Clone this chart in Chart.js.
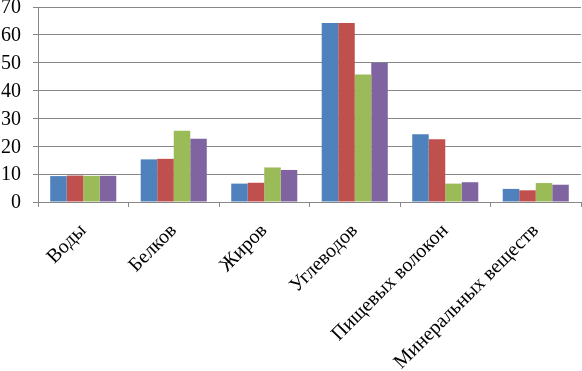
<!DOCTYPE html>
<html>
<head>
<meta charset="utf-8">
<script src="https://cdn.jsdelivr.net/npm/chart.js@4/dist/chart.umd.min.js"></script>
<style>
    html, body { margin: 0; padding: 0; background: #fff; }
    #wrap { width: 582px; height: 371px; position: relative; }
</style>
</head>
<body>
<div id="wrap"><canvas id="myChart"></canvas></div>
<script>
// категории и значения серий
var categories = ['Воды', 'Белков', 'Жиров', 'Углеводов', 'Пищевых волокон', 'Минеральных веществ'];
var series1 = [9.3, 15.3, 6.6, 64.3, 24.3, 4.7];
var series2 = [9.5, 15.5, 6.9, 64.3, 22.5, 4.2];
var series3 = [9.4, 25.6, 12.4, 45.8, 6.6, 6.8];
var series4 = [9.4, 22.7, 11.5, 50.0, 7.1, 6.2];
var yTicks = [0, 10, 20, 30, 40, 50, 60, 70];

var colors = ['#4F81BD', '#C0504D', '#9BBB59', '#8064A2'];
var allSeries = [series1, series2, series3, series4];

var datasets = [];
for (let i = 0; i < allSeries.length; i++) {
    datasets.push({
        label: 'Ряд ' + (i + 1),
        data: allSeries[i],
        backgroundColor: colors[i],
        borderWidth: 0,
        barPercentage: 1.0,
        categoryPercentage: 0.73
    });
}

var font = { family: '"Liberation Serif", "Times New Roman", serif', size: 20, lineHeight: 0.8 };

var ctx = document.getElementById('myChart').getContext('2d');
new Chart(ctx, {
    type: 'bar',
    data: {
        labels: categories,
        datasets: datasets
    },
    options: {
        responsive: true,
        maintainAspectRatio: false,
        animation: false,
        layout: { padding: { left: 0, right: 1, top: 7, bottom: 0 } },
        plugins: {
            legend: { display: false },
            tooltip: { enabled: false }
        },
        scales: {
            x: {
                afterFit: function (scale) {
                    // высота зоны подписей как в оригинале
                    scale.height = 169;
                    scale.paddingLeft = 0;
                    scale.paddingRight = 0;
                },
                grid: {
                    offset: true,
                    drawOnChartArea: false,
                    color: '#878787',
                    tickLength: 5
                },
                border: { color: '#878787' },
                ticks: {
                    color: '#000',
                    font: font,
                    minRotation: 45,
                    maxRotation: 45,
                    padding: 15
                }
            },
            y: {
                min: 0,
                max: 70,
                afterBuildTicks: function (axis) {
                    axis.ticks = yTicks.map(function (v) { return { value: v }; });
                },
                afterFit: function (scale) {
                    scale.width = 38;
                    scale.paddingTop = 0;
                },
                grid: {
                    color: '#878787',
                    tickLength: 5
                },
                border: { color: '#878787' },
                ticks: {
                    color: '#000',
                    font: font,
                    padding: 12,
                    labelOffset: 1
                }
            }
        }
    }
});
</script>
</body>
</html>
